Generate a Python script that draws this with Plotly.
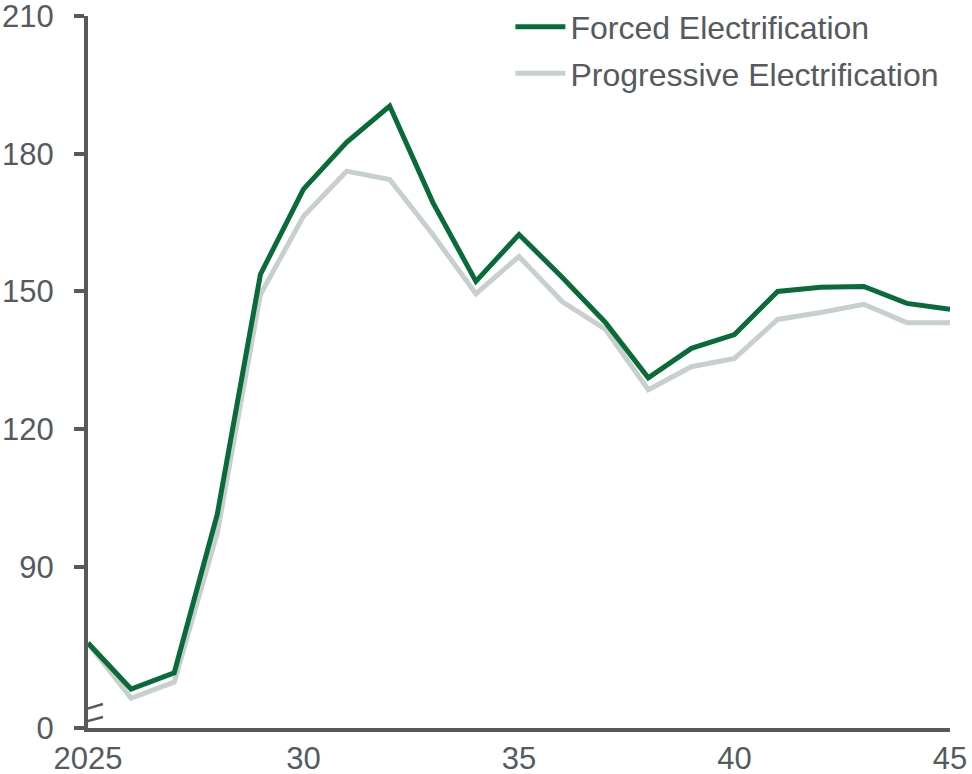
import plotly.graph_objects as go

# Annual values, 2025-2045
years = list(range(2025, 2046))
forced = [73.4, 63.4, 66.9, 101.5, 153.7, 172.3, 182.5, 190.4, 169.4, 152.2, 162.4,
          153.1, 143.3, 131.2, 137.6, 140.6, 150.0, 150.9, 151.1, 147.4, 146.1]
progressive = [73.4, 61.4, 64.9, 97.4, 149.3, 166.4, 176.2, 174.4, 162.4, 149.5, 157.6,
               147.8, 141.8, 128.6, 133.6, 135.4, 143.9, 145.4, 147.2, 143.2, 143.2]

x_tickvals = [2025, 2030, 2035, 2040, 2045]
x_ticktext = ["2025", "30", "35", "40", "45"]

# The value axis is broken below 90: its floor carries the "0" label
AXIS_FLOOR = 54.9
y_tickvals = [AXIS_FLOOR, 90, 120, 150, 180, 210]
y_ticktext = ["0", "90", "120", "150", "180", "210"]

GREEN = "#086b38"
GREY = "#c7d0cd"
AXIS = "#595959"
TEXT = "#555a60"
FONT = "Liberation Sans, Arial, sans-serif"

fig = go.Figure()
fig.add_trace(go.Scatter(
    x=years, y=progressive, mode="lines", name="Progressive Electrification",
    line=dict(color=GREY, width=5), legendgroup="b", legendrank=2,
))
fig.add_trace(go.Scatter(
    x=years, y=forced, mode="lines", name="Forced Electrification",
    line=dict(color=GREEN, width=5), legendgroup="a", legendrank=1,
))

# Axis-break marker on the value axis
fig.add_shape(type="rect", xref="x", yref="y", xsizemode="pixel", ysizemode="pixel",
              xanchor=2025, yanchor=AXIS_FLOOR, x0=-5, x1=5, y0=8, y1=19,
              fillcolor="white", line=dict(width=0), layer="above")
for y0, y1 in [(15, 24), (3, 11)]:
    fig.add_shape(type="line", xref="x", yref="y", xsizemode="pixel", ysizemode="pixel",
                  xanchor=2025, yanchor=AXIS_FLOOR, x0=-15, x1=15, y0=y0, y1=y1,
                  line=dict(color=AXIS, width=2.5), layer="above")

fig.update_layout(
    width=972, height=774,
    margin=dict(l=88, r=22, t=16, b=46, autoexpand=False),
    paper_bgcolor="white", plot_bgcolor="white",
    font=dict(family=FONT, size=31, color=TEXT),
    showlegend=True,
    legend=dict(
        x=0.49, y=1.0234, xanchor="left", yanchor="top",
        font=dict(family=FONT, size=32, color=TEXT),
        bgcolor="rgba(0,0,0,0)", itemwidth=50, tracegroupgap=2,
        traceorder="grouped",
    ),
    xaxis=dict(
        range=[2025, 2045], tickvals=x_tickvals, ticktext=x_ticktext,
        showgrid=False, zeroline=False, showline=True, linecolor=AXIS, linewidth=4,
        ticks="", ticklabelstandoff=0, automargin=False, ticklabeloverflow="allow",
    ),
    yaxis=dict(
        range=[AXIS_FLOOR, 210], tickvals=y_tickvals, ticktext=y_ticktext,
        showgrid=False, zeroline=False, showline=True, linecolor=AXIS, linewidth=4,
        ticks="outside", ticklen=10, tickwidth=4, tickcolor=AXIS, ticklabelstandoff=14,
        automargin=False, ticklabeloverflow="allow",
    ),
)

fig.write_html("out.html")
